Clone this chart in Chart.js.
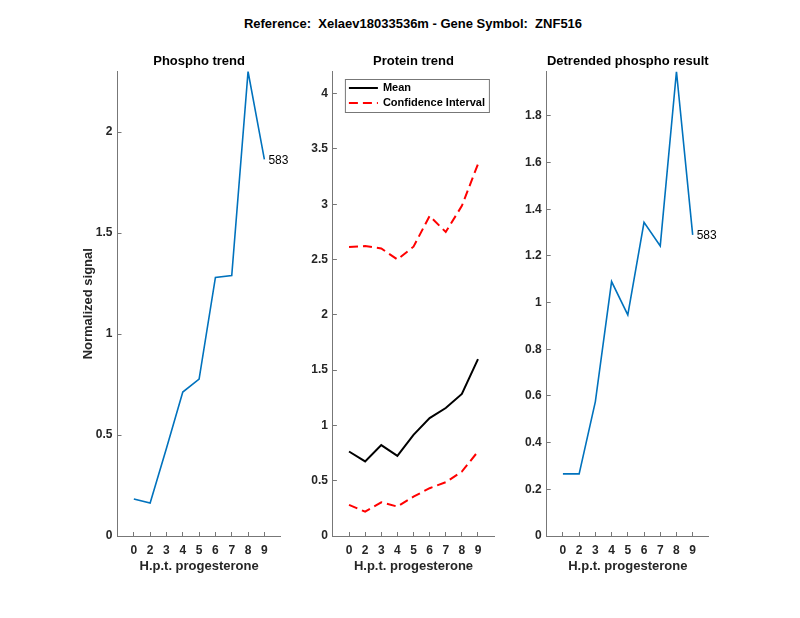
<!DOCTYPE html>
<html>
<head>
<meta charset="utf-8">
<script src="https://cdn.jsdelivr.net/npm/chart.js@4"></script>
<style>
  body { margin: 0; background: #fff; }
  #wrap { position: relative; width: 800px; height: 618px; overflow: hidden; }
  canvas { position: absolute; }
  #mainTitle {
    position: absolute; left: 213px; width: 400px; top: 16px; height: 16px;
    line-height: 16px; text-align: center; font: bold 13px 'Liberation Sans', Arial, sans-serif; color: #000;
    white-space: pre;
  }
</style>
</head>
<body>
<div id="wrap">
  <div id="mainTitle">Reference:  Xelaev18033536m - Gene Symbol:  ZNF516</div>
  <canvas id="c1" width="270" height="550" style="left:30px;top:40px"></canvas>
  <canvas id="c2" width="230" height="550" style="left:290px;top:40px"></canvas>
  <canvas id="c3" width="260" height="550" style="left:500px;top:40px"></canvas>
</div>
<script>
// hours post progesterone (category positions 0..8)
var xLabels = ['0', '2', '3', '4', '5', '6', '7', '8', '9']
var phospho = [0.183, 0.163, 0.435, 0.713, 0.777, 1.28, 1.29, 2.30, 1.865]
var proteinMean = [0.764, 0.674, 0.822, 0.725, 0.915, 1.066, 1.157, 1.284, 1.60]
var proteinUpper = [2.613, 2.622, 2.60, 2.50, 2.616, 2.894, 2.749, 2.985, 3.363]
var proteinLower = [0.281, 0.22, 0.305, 0.266, 0.356, 0.432, 0.486, 0.583, 0.764]
var detrended = [0.266, 0.266, 0.576, 1.09, 0.947, 1.344, 1.243, 1.99, 1.29]
var peptideId = '583'

var FONT = "'Liberation Sans', Arial, sans-serif"
var AXIS = '#777'
var TXT = '#262626'
var BLUE = '#0072BD'

function pts(arr) {
  return arr.map((v, i) => ({x: i, y: v}))
}

// label next to the last point of the first dataset
var endLabel = {
  id: 'endLabel',
  afterDatasetsDraw(chart, args, opts) {
    if (!opts.text) return
    var meta = chart.getDatasetMeta(0)
    var p = meta.data[meta.data.length - 1]
    var ctx = chart.ctx
    ctx.save()
    ctx.font = '12px ' + FONT
    ctx.fillStyle = '#000'
    ctx.textBaseline = 'middle'
    ctx.textAlign = 'left'
    ctx.fillText(opts.text, p.x + 4, p.y + 1)
    ctx.restore()
  }
}

// matlab style boxed legend in the upper left of the plot area
var boxLegend = {
  id: 'boxLegend',
  afterDraw(chart, args, opts) {
    if (!opts.display) return
    var a = chart.chartArea
    var ctx = chart.ctx
    var x = a.left + 12, y = a.top + 7.5, w = 144, h = 33
    ctx.save()
    ctx.fillStyle = '#fff'
    ctx.fillRect(x, y, w, h)
    ctx.strokeStyle = AXIS
    ctx.lineWidth = 1
    ctx.strokeRect(x + 0.5, y + 0.5, w, h)
    ctx.font = 'bold 11px ' + FONT
    ctx.textBaseline = 'middle'
    ctx.fillStyle = '#000'
    var items = chart.data.datasets.filter(d => d.label)
    items.forEach((d, i) => {
      var ly = y + 9 + i * 15
      ctx.beginPath()
      ctx.strokeStyle = d.borderColor
      ctx.lineWidth = d.borderWidth
      ctx.setLineDash(d.borderDash || [])
      ctx.moveTo(x + 4, ly)
      ctx.lineTo(x + 33, ly)
      ctx.stroke()
      ctx.setLineDash([])
      ctx.fillText(d.label, x + 38, ly)
    })
    ctx.restore()
  }
}

function makeChart(id, o) {
  var ctx = document.getElementById(id).getContext('2d')
  return new Chart(ctx, {
    type: 'line',
    data: {datasets: o.datasets},
    plugins: [endLabel, boxLegend],
    options: {
      responsive: false,
      animation: false,
      events: [],
      layout: {padding: {left: 0, right: o.padRight, top: 0, bottom: 0}},
      elements: {point: {radius: 0}, line: {tension: 0}},
      plugins: {
        legend: {display: false},
        tooltip: {enabled: false},
        title: {
          display: true,
          text: o.title,
          fullSize: false,
          color: '#000',
          font: {family: FONT, size: 13, weight: 'bold'},
          padding: {top: 13.2, bottom: 2.7}
        },
        endLabel: {text: o.endText},
        boxLegend: {display: !!o.legend}
      },
      scales: {
        x: {
          type: 'linear',
          min: -1,
          max: 9,
          afterFit: s => { s.height = 54 },
          border: {display: true, color: AXIS, width: 1},
          grid: {
            drawOnChartArea: false,
            drawTicks: true,
            tickLength: -4,
            color: c => (c.tick && (c.tick.value < 0 || c.tick.value > 8)) ? 'rgba(0,0,0,0)' : AXIS
          },
          ticks: {
            stepSize: 1,
            padding: 11.5,
            color: TXT,
            font: {family: FONT, size: 12, weight: 'bold'},
            maxRotation: 0,
            autoSkip: false,
            callback: v => (xLabels[v] !== undefined ? xLabels[v] : '')
          },
          title: {
            display: true,
            text: 'H.p.t. progesterone',
            color: TXT,
            font: {family: FONT, size: 13, weight: 'bold'},
            padding: {top: 0, bottom: 16}
          }
        },
        y: {
          min: 0,
          max: o.yMax,
          afterFit: s => { s.width = o.yWidth },
          border: {display: true, color: AXIS, width: 1},
          grid: {drawOnChartArea: false, drawTicks: true, tickLength: -4, color: AXIS},
          ticks: {
            stepSize: o.yStep,
            includeBounds: false,
            padding: 9,
            color: TXT,
            font: {family: FONT, size: 12, weight: 'bold'},
            callback: v => String(Math.round(v * 10) / 10)
          },
          title: {
            display: !!o.yTitle,
            text: o.yTitle || '',
            color: TXT,
            font: {family: FONT, size: 13, weight: 'bold'},
            padding: {top: 50.2, bottom: 0}
          }
        }
      }
    }
  })
}

makeChart('c1', {
  title: 'Phospho trend',
  yTitle: 'Normalized signal',
  yMax: 2.3, yStep: 0.5, yWidth: 87.5, padRight: 19.3,
  endText: peptideId,
  datasets: [{data: pts(phospho), borderColor: BLUE, borderWidth: 1.6}]
})

makeChart('c2', {
  title: 'Protein trend',
  yMax: 4.2, yStep: 0.5, yWidth: 42.9, padRight: 25.9,
  legend: true,
  datasets: [
    {label: 'Mean', data: pts(proteinMean), borderColor: '#000', borderWidth: 2},
    {label: 'Confidence Interval', data: pts(proteinUpper), borderColor: '#FF0000', borderWidth: 2, borderDash: [9, 5]},
    {data: pts(proteinLower), borderColor: '#FF0000', borderWidth: 2, borderDash: [9, 5]}
  ]
})

makeChart('c3', {
  title: 'Detrended phospho result',
  yMax: 1.99, yStep: 0.2, yWidth: 46.7, padRight: 51.1,
  endText: peptideId,
  datasets: [{data: pts(detrended), borderColor: BLUE, borderWidth: 1.6}]
})
</script>
</body>
</html>
